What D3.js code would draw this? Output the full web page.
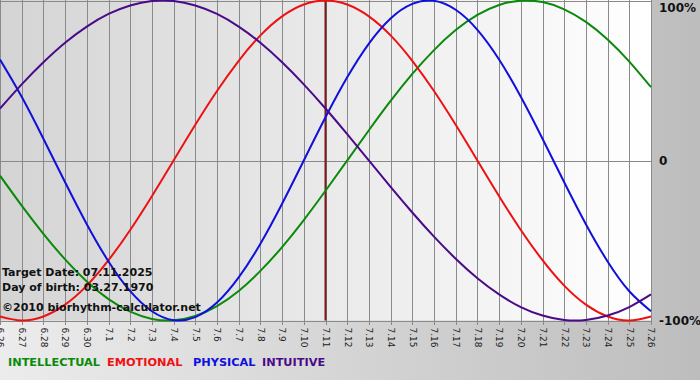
<!DOCTYPE html>
<html><head><meta charset="utf-8">
<script src="https://cdn.jsdelivr.net/npm/d3@7"></script>
<style>html,body{margin:0;padding:0;background:#fff}svg{display:block}</style>
</head><body>
<svg id="c" width="700" height="380"></svg>
<script>
const days = ["6.26","6.27","6.28","6.29","6.30","7.1","7.2","7.3","7.4","7.5","7.6","7.7","7.8","7.9","7.10","7.11","7.12","7.13","7.14","7.15","7.16","7.17","7.18","7.19","7.20","7.21","7.22","7.23","7.24","7.25","7.26"];
const physical = [0.631,0.398,0.136,-0.136,-0.398,-0.631,-0.817,-0.942,-0.998,-0.979,-0.888,-0.731,-0.520,-0.270,0,0.270,0.520,0.731,0.888,0.979,0.998,0.942,0.817,0.631,0.398,0.136,-0.136,-0.398,-0.631,-0.817,-0.942];
const emotional = [-0.975,-1,-0.975,-0.901,-0.782,-0.623,-0.434,-0.223,0,0.223,0.434,0.623,0.782,0.901,0.975,1,0.975,0.901,0.782,0.623,0.434,0.223,0,-0.223,-0.434,-0.623,-0.782,-0.901,-0.975,-1,-0.975];
const intellectual = [-0.095,-0.282,-0.458,-0.618,-0.756,-0.866,-0.945,-0.990,-0.999,-0.972,-0.910,-0.815,-0.690,-0.541,-0.372,-0.189,0,0.189,0.372,0.541,0.690,0.815,0.910,0.972,0.999,0.990,0.945,0.866,0.756,0.618,0.458];
const intuitive = [0.325,0.476,0.614,0.736,0.837,0.916,0.969,0.997,0.997,0.969,0.916,0.837,0.736,0.614,0.476,0.325,0.165,0,-0.165,-0.325,-0.476,-0.614,-0.736,-0.837,-0.916,-0.969,-0.997,-0.997,-0.969,-0.916,-0.837];
const yTicks = [1, 0, -1];
const yTickLabels = ["100%", "0", "-100%"];
const targetIndex = 15;
const infoLines = ["Target Date: 07.11.2025", "Day of birth: 03.27.1970", "\u00a92010 biorhythm-calculator.net"];
const legendNames = ["INTELLECTUAL", "EMOTIONAL", "PHYSICAL", "INTUITIVE"];
const seriesList = [
  {name:"INTELLECTUAL", values:intellectual, color:"#0a8a0a"},
  {name:"EMOTIONAL", values:emotional, color:"#ee1111"},
  {name:"PHYSICAL", values:physical, color:"#1010dd"},
  {name:"INTUITIVE", values:intuitive, color:"#4a0a8a"}
];

(function(){
const svg = d3.select("#c");
const W = 700, H = 380;
const pl = 0, pr = 651, pt = 0, pb = 320.5;
const font = "Verdana, 'DejaVu Sans', sans-serif";
const defs = svg.append("defs");
const g1 = defs.append("linearGradient").attr("id","outer").attr("x1","0").attr("y1","0").attr("x2","1").attr("y2","0");
g1.append("stop").attr("offset","0").attr("stop-color","#ececec");
g1.append("stop").attr("offset","1").attr("stop-color","#bdbdbd");
const g2 = defs.append("linearGradient").attr("id","plotbg").attr("x1","0").attr("y1","0").attr("x2","1").attr("y2","0");
g2.append("stop").attr("offset","0").attr("stop-color","#d4d4d4");
g2.append("stop").attr("offset","1").attr("stop-color","#ffffff");

svg.append("rect").attr("width",W).attr("height",H).attr("fill","url(#outer)");

const x = d3.scaleLinear().domain([0, days.length-1]).range([pl, pr]);
const y = d3.scaleLinear().domain([-1, 1]).range([pb, pt + 0.5]);

svg.append("rect").attr("x",pl).attr("y",pt).attr("width",pr-pl).attr("height",pb-pt).attr("fill","url(#plotbg)");

const xAxis = d3.axisBottom(x).tickValues(d3.range(days.length)).tickFormat(i => days[i]).tickSize(pb - pt + 4).tickSizeOuter(0);
const xg = svg.append("g").attr("transform",`translate(0,${pt})`).call(xAxis);
xg.select(".domain").remove();
xg.selectAll(".tick line").attr("stroke","#8a8a8a").attr("stroke-width",1).attr("shape-rendering","crispEdges");
xg.selectAll(".tick text")
  .attr("font-family",font).attr("font-size",9).attr("fill","#222")
  .attr("y",null).attr("dy",null)
  .attr("text-anchor","start")
  .attr("transform",`translate(0,${pb+7}) rotate(90)`)
  .attr("x",0).attr("dy","0.35em");

const yAxis = d3.axisRight(y).tickValues(yTicks).tickFormat((d,i) => yTickLabels[i]).tickSize(-(pr-pl)).tickPadding(8);
const yg = svg.append("g").attr("transform",`translate(${pr},0)`).call(yAxis);
yg.select(".domain").attr("stroke","#8a8a8a").attr("d",`M0.5,${pt}V${pb}`);
yg.selectAll(".tick line").attr("stroke","#8a8a8a").attr("shape-rendering","crispEdges");
yg.selectAll(".tick text").attr("font-family",font).attr("font-weight","bold").attr("font-size",12).attr("fill","#111");
yg.selectAll(".tick").filter(d => d === 1).select("text").attr("dy","0.9em");

svg.append("line").attr("x1",x(targetIndex)).attr("x2",x(targetIndex)).attr("y1",pt).attr("y2",pb)
  .attr("stroke","#7a1a1a").attr("stroke-width",2);

const line = d3.line().x((d,i) => x(i)).y(d => y(d)).curve(d3.curveNatural);
svg.append("g").selectAll("path").data(seriesList).join("path")
  .attr("d", d => line(d.values)).attr("fill","none").attr("stroke", d => d.color).attr("stroke-width",2);

const infoY = [276, 291, 311];
svg.append("g").selectAll("text").data(infoLines).join("text")
  .attr("x",2).attr("y",(d,i)=>infoY[i]).text(d=>d)
  .attr("font-family",font).attr("font-weight","bold").attr("font-size",11).attr("fill","#111");

const legendX = [8, 107, 193, 262];
svg.append("g").selectAll("text").data(legendNames).join("text")
  .attr("x",(d,i)=>legendX[i]).attr("y",366).text(d=>d)
  .attr("fill", d => seriesList.find(s => s.name === d).color)
  .attr("font-family",font).attr("font-weight","bold").attr("font-size",11.3);
})();
</script>
</body></html>
